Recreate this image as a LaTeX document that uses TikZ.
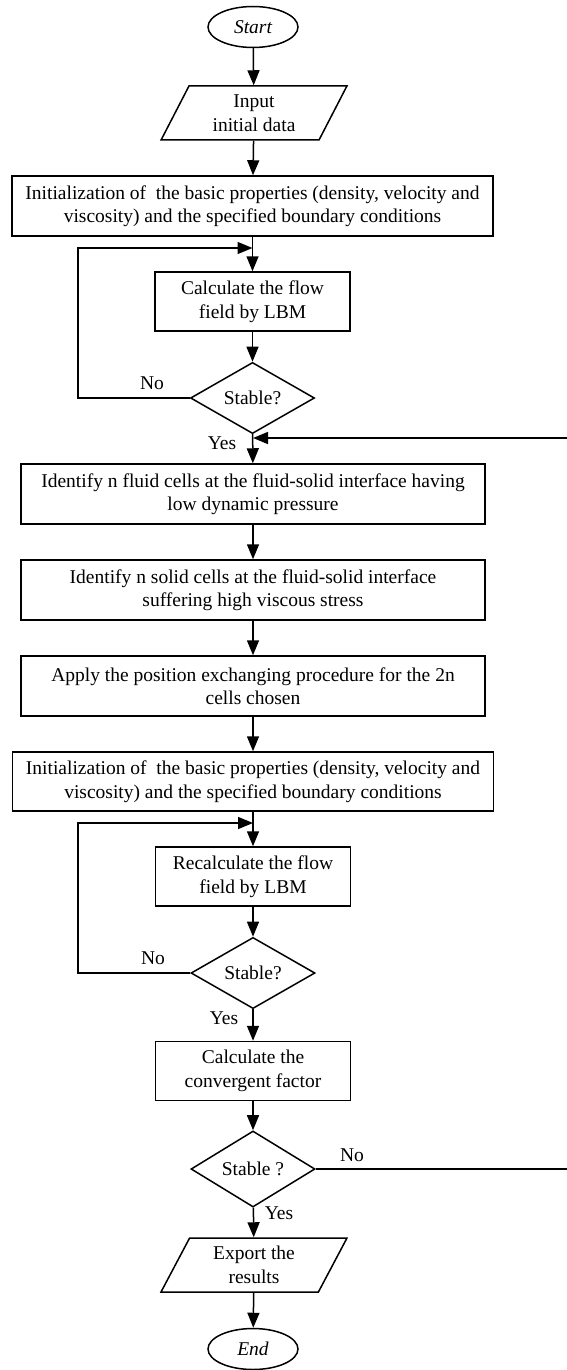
\documentclass[tikz,border=0pt]{standalone}
\usepackage{fontspec}
\setmainfont{Liberation Serif}
\usetikzlibrary{arrows.meta,shapes.geometric}
\newcommand{\flowfont}{\fontsize{19.5}{23.5}\selectfont}
\tikzset{
    proc/.style = {draw, rectangle, line width=1.5pt, align=center, inner sep=0pt},
    io/.style = {draw, trapezium, trapezium left angle=64, trapezium right angle=116,
        trapezium stretches=true, line width=1.5pt, align=center, inner sep=0pt,
        minimum width=186, minimum height=54},
    term/.style = {draw, ellipse, line width=1.5pt, inner sep=0pt, font=\flowfont\itshape,
        minimum width=90, minimum height=41},
    dec/.style = {draw, diamond, line width=1.5pt, inner sep=0pt,
        minimum width=124, minimum height=64},
    lbl/.style = {inner sep=0pt},
    arr/.style = {line width=1.5pt, -{Triangle[length=15pt,width=12pt]}}
}
\begin{document}
\begin{tikzpicture}[x=1pt, y=-1pt, line join=miter, font=\flowfont]
\useasboundingbox (0,0) rectangle (567,1370);
\node [term] (start) at (253,27) {Start};
\node [io] (inp) at (254,113) {Input\\initial data};
\node [proc, minimum width=481, minimum height=60] (init1) at (252.5,206)
    {Initialization of \ the basic properties (density, velocity and\\viscosity) and the specified boundary conditions};
\node [proc, minimum width=195, minimum height=59] (calc) at (252.5,301.5) {Calculate the flow\\field by LBM};
\node [dec] (st1) at (252.5,398) {Stable?};
\node [proc, minimum width=464, minimum height=60] (fluid) at (253,494)
    {Identify n fluid cells at the fluid-solid interface having\\low dynamic pressure};
\node [proc, minimum width=464, minimum height=60] (solid) at (253,590)
    {Identify n solid cells at the fluid-solid interface\\suffering high viscous stress};
\node [proc, minimum width=464, minimum height=60] (swap) at (253,686)
    {Apply the position exchanging procedure for the 2n\\cells chosen};
\node [proc, minimum width=481, minimum height=59] (init2) at (253,781.5)
    {Initialization of \ the basic properties (density, velocity and\\viscosity) and the specified boundary conditions};
\node [proc, minimum width=195, minimum height=59] (recalc) at (253,876.5) {Recalculate the flow\\field by LBM};
\node [dec] (st2) at (253,973) {Stable?};
\node [proc, minimum width=195, minimum height=59] (conv) at (253,1071) {Calculate the\\convergent factor};
\node [dec] (st3) at (253,1169) {Stable ?};
\node [io] (outp) at (254,1265) {Export the\\results};
\node [term] (stop) at (253,1349) {End};
\node [lbl] (no1) at (152,383) {No};
\node [lbl] (yes1) at (222,443) {Yes};
\node [lbl] (no2) at (153,958) {No};
\node [lbl] (yes2) at (224,1018) {Yes};
\node [lbl] (no3) at (352,1155) {No};
\node [lbl] (yes3) at (279,1213) {Yes};
\coordinate (j1) at (252.5,248);
\coordinate (l1) at (78,248);
\coordinate (j2) at (253,823);
\coordinate (l2) at (78,823);
\coordinate (j3) at (253,438);
\coordinate (r3) at (569,1169);
\draw [arr] (start) -- (inp);
\draw [arr] (inp) -- (init1);
\draw [arr] (init1) -- (calc);
\draw [arr] (calc) -- (st1);
\draw [arr] (st1.west) -| (l1) -- (j1);
\draw [arr] (st1) -- (fluid);
\draw [arr] (fluid) -- (solid);
\draw [arr] (solid) -- (swap);
\draw [arr] (swap) -- (init2);
\draw [arr] (init2) -- (recalc);
\draw [arr] (recalc) -- (st2);
\draw [arr] (st2.west) -| (l2) -- (j2);
\draw [arr] (st2) -- (conv);
\draw [arr] (conv) -- (st3);
\draw [arr] (st3.east) -- (r3) |- (j3);
\draw [arr] (st3) -- (outp);
\draw [arr] (outp) -- (stop);
\end{tikzpicture}
\end{document}
